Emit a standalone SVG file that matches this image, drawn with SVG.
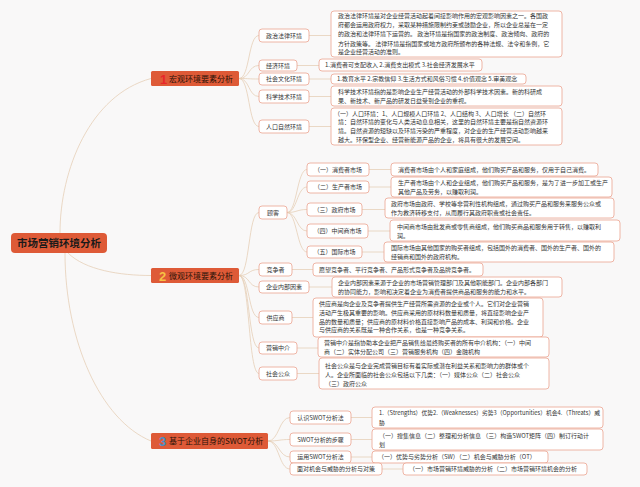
<svg xmlns="http://www.w3.org/2000/svg" width="640" height="487" viewBox="0 0 640 487">
<style>
text{font-family:"Noto Sans CJK SC","Noto Sans",sans-serif;fill:#333}
.n{fill:#fff;stroke:#eba390;stroke-width:0.8}
.t{font-size:6px}
.m{font-size:6px;text-anchor:middle}
.b{fill:#de5a37}
.bt{font-size:8px;fill:#2a1208}
.num{font-size:13px;font-weight:bold;font-family:"Liberation Sans",sans-serif}
.c{fill:none;stroke:#e6cfb8;stroke-width:0.8}
</style>
<rect width="640" height="487" fill="#f9f8f8"/>
<g id="connectors">
<path class="c" d="M60,233 C60,170 90,95 151,78.5"/>
<path class="c" d="M68,253 C85,270 120,275.5 151,275.5"/>
<path class="c" d="M65,253 C65,340 100,420 151,441"/>
<path class="c" d="M239,78.5 C250,78.5 248,35.5 259,35.5"/>
<path class="c" d="M239,78.5 C250,78.5 248,65.5 259,65.5"/>
<path class="c" d="M239,78.5 C250,78.5 248,79 259,79"/>
<path class="c" d="M239,78.5 C250,78.5 248,96.5 259,96.5"/>
<path class="c" d="M239,78.5 C250,78.5 248,126.5 259,126.5"/>
<path class="c" d="M309,35.5 H331 M297,65.5 H319 M309,79 H331 M309,96.5 H331 M309,126.5 H331"/>
<path class="c" d="M239,275.5 C250,275.5 248,212.5 259,212.5"/>
<path class="c" d="M239,275.5 C250,275.5 248,269.5 259,269.5"/>
<path class="c" d="M239,275.5 C250,275.5 248,287 259,287"/>
<path class="c" d="M239,275.5 C250,275.5 248,317.5 259,317.5"/>
<path class="c" d="M239,275.5 C250,275.5 248,348 259,348"/>
<path class="c" d="M239,275.5 C250,275.5 248,373.5 259,373.5"/>
<path class="c" d="M287,212.5 C297,212.5 297,169.5 307,169.5"/>
<path class="c" d="M287,212.5 C297,212.5 297,187 307,187"/>
<path class="c" d="M287,212.5 C297,212.5 297,209.5 307,209.5"/>
<path class="c" d="M287,212.5 C297,212.5 297,231 307,231"/>
<path class="c" d="M287,212.5 C297,212.5 297,252 307,252"/>
<path class="c" d="M369,169.5 H391 M369,187 H391 M362,209.5 H385 M368,231 H390 M362,252 H384"/>
<path class="c" d="M292,269.5 H313 M309,287 H332 M292,317.5 H313 M297,348 H318 M297,373.5 H319"/>
<path class="c" d="M268,441 C279,441 279,417.5 290,417.5"/>
<path class="c" d="M268,441 C279,441 279,439.5 290,439.5"/>
<path class="c" d="M268,441 C279,441 279,457 290,457"/>
<path class="c" d="M268,441 C279,441 279,469 290,469"/>
<path class="c" d="M351,417.5 H372 M351,439.5 H372 M351,457 H372 M382,469 H403"/>
</g>
<g id="root">
<rect class="b" x="11" y="233" width="96" height="20" rx="4"/>
<text x="59" y="247" style="font-size:10.5px;font-weight:bold;fill:#1a1a1a;text-anchor:middle">市场营销环境分析</text>
</g>
<g id="branch1">
<rect class="b" x="151" y="71" width="88" height="15" rx="1.5"/>
<text class="num" x="160" y="83.5" style="fill:#e8262a">1</text>
<text class="bt" x="169" y="81.5">宏观环境要素分析</text>
</g>
<g id="branch2">
<rect class="b" x="151" y="268" width="88" height="15" rx="1.5"/>
<text class="num" x="159" y="280.5" style="fill:#f6c244">2</text>
<text class="bt" x="169" y="278.5">微观环境要素分析</text>
</g>
<g id="branch3">
<rect class="b" x="151" y="433" width="117" height="16" rx="1.5"/>
<text class="num" x="159" y="446" style="fill:#4c8dc4">3</text>
<text class="bt" x="169" y="444">基于企业自身的SWOT分析</text>
</g>
<g id="n-zhengzhi">
<rect class="n" x="259" y="29" width="50" height="13" rx="3"/>
<text class="m" x="284" y="37.6">政治法律环境</text>
</g>
<g id="d-zhengzhi">
<rect class="n" x="331" y="11" width="231" height="46" rx="3"/>
<text class="t" x="338" y="18">政治法律环境是对企业经营活动起着间接影响作用的宏观影响因素之一。各国政</text>
<text class="t" x="338" y="27">府都会运用政府权力，采取某种措施限制约束或鼓励企业，所以企业总是在一定</text>
<text class="t" x="338" y="36">的政治和法律环境下运营的。 政治环境是指国家的政治制度、政治倾向、政府的</text>
<text class="t" x="338" y="45.5">方针政策等。 法律环境是指国家或地方政府所颁布的各种法规、法令和条例，它</text>
<text class="t" x="338" y="54">是企业经营活动的准则。</text>
</g>
<g id="n-jingji">
<rect class="n" x="259" y="60" width="38" height="11" rx="3"/>
<text class="m" x="278" y="67.6">经济环境</text>
</g>
<g id="d-jingji">
<rect class="n" x="319" y="59" width="163" height="12" rx="3"/>
<text class="t" x="325" y="67.2">1.消费者可支配收入 2.消费支出模式 3.社会经济发展水平</text>
</g>
<g id="n-shehui">
<rect class="n" x="259" y="73" width="50" height="12" rx="3"/>
<text class="m" x="284" y="81.2">社会文化环境</text>
</g>
<g id="d-shehui">
<rect class="n" x="331" y="74" width="195" height="10" rx="3"/>
<text class="t" x="337" y="81.2">1.教育水平 2.宗教信仰 3.生活方式和风俗习惯 4.价值观念 5.审美观念</text>
</g>
<g id="n-keji">
<rect class="n" x="259" y="90" width="50" height="13" rx="3"/>
<text class="m" x="284" y="98.6">科学技术环境</text>
</g>
<g id="d-keji">
<rect class="n" x="331" y="86" width="231" height="20" rx="3"/>
<text class="t" x="338" y="94">科学技术环境指的是影响企业生产经营活动的外部科学技术因素。新的科研成</text>
<text class="t" x="338" y="103">果、新技术、新产品的研发日益受到企业的重视。</text>
</g>
<g id="n-renkou">
<rect class="n" x="259" y="120" width="50" height="13" rx="3"/>
<text class="m" x="284" y="128.6">人口自然环境</text>
</g>
<g id="d-renkou">
<rect class="n" x="331" y="108" width="231" height="37" rx="3"/>
<text class="t" x="334" y="115.5">（一）人口环境：1、人口规模人口环境 2、人口结构 3、人口增长 （二）自然环</text>
<text class="t" x="338" y="124">境：自然环境的变化与人类活动息息相关，这里的自然环境主要是指自然资源环</text>
<text class="t" x="338" y="133">境。自然资源的短缺以及环境污染的严重程度，对企业的生产经营活动影响越来</text>
<text class="t" x="338" y="141.5">越大。环保型企业、经营新能源产品的企业，将具有很大的发展空间。</text>
</g>
<g id="n-guke">
<rect class="n" x="259" y="206" width="28" height="13" rx="3"/>
<text class="m" x="273" y="214.6">顾客</text>
</g>
<g id="n-xiaofei">
<rect class="n" x="307" y="163" width="62" height="13" rx="3"/>
<text class="m" x="338" y="171.6">（一）消费者市场</text>
</g>
<g id="d-xiaofei">
<rect class="n" x="391" y="163" width="207" height="13" rx="3"/>
<text class="t" x="398" y="171.6">消费者市场由个人和家庭组成，他们购买产品和服务，仅用于自己消费。</text>
</g>
<g id="n-shengchan">
<rect class="n" x="307" y="181" width="62" height="12" rx="3"/>
<text class="m" x="338" y="189.2">（二）生产者市场</text>
</g>
<g id="d-shengchan">
<rect class="n" x="391" y="177" width="221" height="20" rx="3"/>
<text class="t" x="398" y="185">生产者市场由个人和企业组成，他们购买产品和服务，是为了进一步加工或生产</text>
<text class="t" x="398" y="194">其他产品及劳务，以赚取利润。</text>
</g>
<g id="n-zhengfu">
<rect class="n" x="307" y="203" width="55" height="13" rx="3"/>
<text class="m" x="334.5" y="211.6">（三）政府市场</text>
</g>
<g id="d-zhengfu">
<rect class="n" x="385" y="198" width="229" height="20" rx="3"/>
<text class="t" x="391" y="206">政府市场由政府、学校等非营利性机构组成，通过购买产品和服务来服务公众或</text>
<text class="t" x="391" y="215">作为救济转移支付，从而履行其政府职责或社会责任。</text>
</g>
<g id="n-zhongjian">
<rect class="n" x="307" y="224" width="61" height="14" rx="3"/>
<text class="m" x="337.5" y="233.2">（四）中间商市场</text>
</g>
<g id="d-zhongjian">
<rect class="n" x="390" y="220" width="230" height="21" rx="3"/>
<text class="t" x="397" y="229">中间商市场由批发商或零售商组成，他们购买商品和服务用于转售，以赚取利</text>
<text class="t" x="397" y="238">润。</text>
</g>
<g id="n-guoji">
<rect class="n" x="307" y="246" width="55" height="12" rx="3"/>
<text class="m" x="334.5" y="254.2">（五）国际市场</text>
</g>
<g id="d-guoji">
<rect class="n" x="384" y="242" width="230" height="20" rx="3"/>
<text class="t" x="391" y="250">国际市场由其他国家的购买者组成，包括国外的消费者、国外的生产者、国外的</text>
<text class="t" x="391" y="259">经销商和国外的政府机构。</text>
</g>
<g id="n-jingzheng">
<rect class="n" x="259" y="263" width="33" height="13" rx="3"/>
<text class="m" x="275.5" y="271.6">竞争者</text>
</g>
<g id="d-jingzheng">
<rect class="n" x="313" y="263" width="170" height="13" rx="3"/>
<text class="t" x="319" y="271.6">愿望竞争者、平行竞争者、产品形式竞争者及品牌竞争者。</text>
</g>
<g id="n-neibu">
<rect class="n" x="259" y="281" width="50" height="12" rx="3"/>
<text class="m" x="284" y="289.2">企业内部因素</text>
</g>
<g id="d-neibu">
<rect class="n" x="332" y="277" width="230" height="20" rx="3"/>
<text class="t" x="338" y="285">企业内部因素来源于企业的市场营销管理部门及其他职能部门。企业内部各部门</text>
<text class="t" x="338" y="294">的协同能力，影响和决定着企业为消费者提供商品和服务的能力和水平。</text>
</g>
<g id="n-gongying">
<rect class="n" x="259" y="311" width="33" height="13" rx="3"/>
<text class="m" x="275.5" y="319.6">供应商</text>
</g>
<g id="d-gongying">
<rect class="n" x="313" y="298" width="230" height="39" rx="3"/>
<text class="t" x="319" y="306">供应商是向企业及竞争者提供生产经营所需资源的企业或个人。它们对企业营销</text>
<text class="t" x="319" y="314.5">活动产生极其重要的影响。供应商采用的原材料数量和质量，将直接影响企业产</text>
<text class="t" x="319" y="323.5">品的数量和质量；供应商的原材料价格直接影响产品的成本、利润和价格。企业</text>
<text class="t" x="319" y="332">与供应商的关系既是一种合作关系，也是一种竞争关系。</text>
</g>
<g id="n-zhongjie">
<rect class="n" x="259" y="342" width="38" height="12" rx="3"/>
<text class="m" x="278" y="350.2">营销中介</text>
</g>
<g id="d-zhongjie">
<rect class="n" x="318" y="337" width="231" height="20" rx="3"/>
<text class="t" x="324" y="345">营销中介是指协助本企业把产品销售给最终购买者的所有中介机构：（一）中间</text>
<text class="t" x="324" y="354">商（二）实体分配公司（三）营销服务机构（四）金融机构</text>
</g>
<g id="n-gongzhong">
<rect class="n" x="259" y="367" width="38" height="13" rx="3"/>
<text class="m" x="278" y="375.6">社会公众</text>
</g>
<g id="d-gongzhong">
<rect class="n" x="319" y="358" width="230" height="31" rx="3"/>
<text class="t" x="325" y="368">社会公众是与企业完成营销目标有着实际或潜在利益关系和影响力的群体或个</text>
<text class="t" x="325" y="377">人。企业所面临的社会公众包括以下几类：（一）媒体公众（二）社会公众</text>
<text class="t" x="325" y="385.5">（三）政府公众</text>
</g>
<g id="n-renshi">
<rect class="n" x="290" y="411" width="61" height="13" rx="3"/>
<text class="m" x="320.5" y="419.6">认识SWOT分析法</text>
</g>
<g id="d-renshi">
<rect class="n" x="372" y="407" width="231" height="21" rx="3"/>
<text class="t" x="379" y="415" textLength="221" lengthAdjust="spacingAndGlyphs">1.（Strengths）优势2.（Weaknesses）劣势3（Opportunities）机会4.（Threats）威</text>
<text class="t" x="379" y="425">胁</text>
</g>
<g id="n-buzhou">
<rect class="n" x="290" y="433" width="61" height="13" rx="3"/>
<text class="m" x="320.5" y="441.6">SWOT分析的步骤</text>
</g>
<g id="d-buzhou">
<rect class="n" x="372" y="429" width="231" height="21" rx="3"/>
<text class="t" x="379" y="438">（一）搜集信息（二）整理和分析信息 （三）构造SWOT矩阵（四）制订行动计</text>
<text class="t" x="379" y="446.5">划</text>
</g>
<g id="n-yunyong">
<rect class="n" x="290" y="451" width="61" height="12" rx="3"/>
<text class="m" x="320.5" y="459.2">运用SWOT分析法</text>
</g>
<g id="d-yunyong">
<rect class="n" x="372" y="451" width="176" height="12" rx="3"/>
<text class="t" x="378" y="459.2">（一）优势与劣势分析（SW）（二）机会与威胁分析（OT）</text>
</g>
<g id="n-duice">
<rect class="n" x="290" y="463" width="92" height="12" rx="3"/>
<text class="m" x="336" y="471.2">面对机会与威胁的分析与对策</text>
</g>
<g id="d-duice">
<rect class="n" x="403" y="463" width="184" height="12" rx="3"/>
<text class="t" x="409" y="471.2">（一）市场营销环境威胁的分析（二）市场营销环境机会的分析</text>
</g>
</svg>
